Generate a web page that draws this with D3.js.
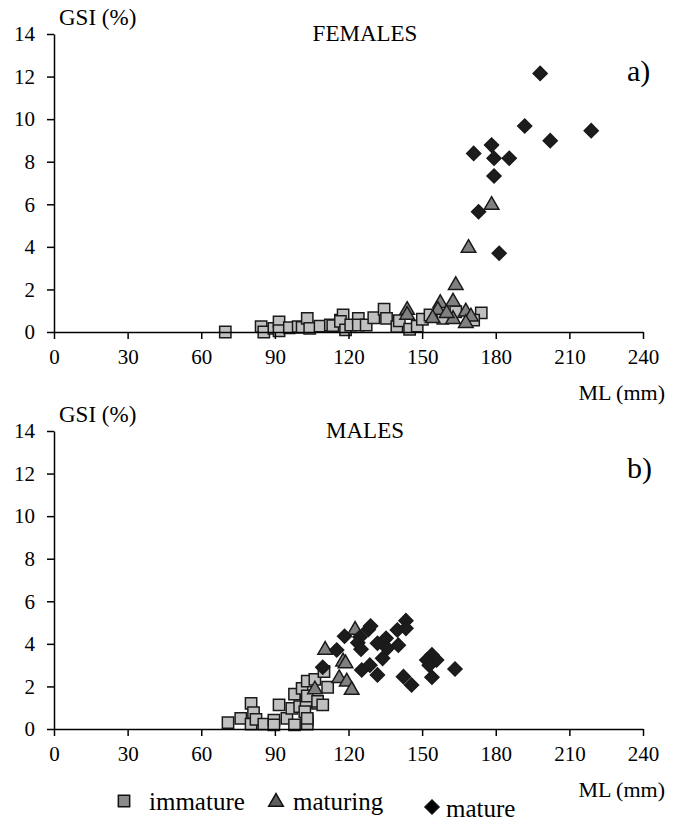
<!DOCTYPE html>
<html>
<head>
<meta charset="utf-8">
<script src="https://cdn.jsdelivr.net/npm/d3@7"></script>
<style>
  body { margin: 0; background: #fff; }
  svg text { font-family: "Liberation Serif", "DejaVu Serif", serif; fill: #000; }
</style>
</head>
<body>
<div id="chart-area"></div>
<script>
// ML (mm), GSI (%)
var femImmature = [[69.8,0.0],[84.4,0.25],[85.5,0.0],[89.6,0.17],[91.7,0.48],[91.7,0.06],[95.9,0.2],[99.5,0.25],
    [101.1,0.22],[103.2,0.64],[104.2,0.17],[108.4,0.28],[112.6,0.33],[116.7,0.56],[113.6,0.3],[117.8,0.8],
    [116.7,0.5],[118.8,0.1],[120.9,0.33],[124,0.64],[124,0.33],[127.2,0.33],[130.3,0.67],[134.5,1.07],
    [135.5,0.64],[139.7,0.25],[140.7,0.53],[144.9,0.13],[148,0.28],[150.1,0.6],[153.2,0.8],[158.4,0.64],
    [163.7,0.95],[174.1,0.9],[171,0.56]];
var femMaturing = [[143.9,1.03],[143.9,0.8],[157.4,1.35],[162.6,1.42],[156.4,1.03],[154.3,0.64],[162.6,0.6],
    [167.8,0.95],[169.9,0.72],[167.8,0.41],[160,0.88],[163.7,2.2],[168.9,3.94],[178.3,5.96]];
var femMature = [[198.1,12.15],[191.8,9.68],[202.2,8.99],[218.9,9.46],[171,8.39],[178.3,8.78],[179.3,8.16],
    [185.5,8.16],[179.3,7.33],[173,5.65],[181.4,3.7]];

var malImmature = [[70.9,0.3],[76.1,0.5],[80.3,1.2],[81.3,0.77],[80.3,0.23],[82.3,0.45],[85.5,0.23],[89.6,0.42],
    [89.6,0.19],[91.7,1.13],[94.9,0.5],[98,0.19],[96.9,0.97],[98,1.64],[100.1,1.05],[101.1,1.91],[102.7,1.28],
    [102.2,0.81],[103.2,0.42],[103.2,2.25],[106.3,2.33],[107.4,1.2],[103.2,0.23],[103.2,1.55],[111.5,1.96],
    [103.2,0.5],[110,2.7],[107.4,1.3],[109.5,1.13]];
var malMaturing = [[106.3,1.85],[110.5,3.71],[117.8,3.16],[118.8,3.08],[116.2,2.38],[119.3,2.22],[121.3,1.83],
    [122.7,4.65]];
var malMature = [[109.5,2.9],[115.2,3.71],[118.4,4.36],[124.7,4.32],[123.8,4.05],[125.1,3.75],[128.1,4.68],
    [129,4.84],[131.8,4.03],[135.3,4.26],[135.8,3.79],[140.3,3.94],[133.9,3.32],[139.9,4.65],[143.4,5.09],
    [143.4,4.73],[125.4,2.77],[128.7,3.0],[131.8,2.54],[142.4,2.46],[145.7,2.07],[154,3.48],[155.9,3.24],
    [151.9,3.24],[152.9,3.0],[154,2.43],[163.4,2.82]];

var xTicks = [0,30,60,90,120,150,180,210,240];
var yTicks = [0,2,4,6,8,10,12,14];
var legendNames = ["immature","maturing","mature"];

var svg = d3.select("#chart-area").append("svg")
    .attr("width", 689)
    .attr("height", 824);

var x = d3.scaleLinear().domain([0, 240]).range([54, 643]);

var shapes = {
    immature: {sym: d3.symbol().type(d3.symbolSquare).size(128)(), rot: 0, fill: "#c0c0c0"},
    maturing: {sym: d3.symbol().type(d3.symbolTriangle).size(92)(), rot: 0, fill: "#808080"},
    mature:   {sym: d3.symbol().type(d3.symbolSquare).size(98)(), rot: 45, fill: "#1c1c1c"}
};

function panel(top, title, tag, series) {
    var y = d3.scaleLinear().domain([0, 14]).range([top + 298, top]);

    series.forEach((s)=>{
        var sh = shapes[s.kind];
        svg.append("g").selectAll("path")
            .data(s.data)
            .enter()
            .append("path")
            .attr("d", sh.sym)
            .attr("transform", (d)=>{return "translate(" + x(d[0]) + "," + y(d[1]) + ") rotate(" + sh.rot + ")";})
            .attr("fill", sh.fill)
            .attr("stroke", "#1a1a1a")
            .attr("stroke-width", 1.5);
    });

    var yAxis = svg.append("g")
        .attr("transform", "translate(" + x(0) + ",0)")
        .call(d3.axisLeft(y).tickValues(yTicks).tickSize(7).tickSizeOuter(0).tickPadding(12));
    var xAxis = svg.append("g")
        .attr("transform", "translate(0," + y(0) + ")")
        .call(d3.axisBottom(x).tickValues(xTicks).tickSize(7).tickSizeOuter(0).tickPadding(10));

    [yAxis, xAxis].forEach((a)=>{
        a.attr("font-family", "Liberation Serif").attr("font-size", 21);
        a.selectAll("path, line").attr("stroke", "#000").attr("stroke-width", 1.5);
        a.selectAll("text").attr("fill", "#000");
    });

    svg.append("text").attr("x", 59).attr("y", top - 9).style("font-size", "23px").text("GSI (%)");
    svg.append("text").attr("x", 365).attr("y", top + 7).attr("text-anchor", "middle")
        .style("font-size", "23px").text(title);
    svg.append("text").attr("x", 627).attr("y", top + 47).style("font-size", "30px").text(tag);
    svg.append("text").attr("x", 665).attr("y", top + 366).attr("text-anchor", "end")
        .style("font-size", "22px").text("ML (mm)");
}

panel(34, "FEMALES", "a)", [
    {kind: "immature", data: femImmature},
    {kind: "maturing", data: femMaturing},
    {kind: "mature", data: femMature}
]);
panel(431, "MALES", "b)", [
    {kind: "immature", data: malImmature},
    {kind: "maturing", data: malMaturing},
    {kind: "mature", data: malMature}
]);

// legend
var legendPos = [{mx: 124, my: 801, tx: 149, ty: 810}, {mx: 276, my: 802, tx: 293, ty: 810}, {mx: 432, my: 807, tx: 446, ty: 817}];
var legendFill = {immature: "#8c8c8c", maturing: "#5e5e5e", mature: "#000"};
legendNames.forEach((n, i)=>{
    var p = legendPos[i];
    var sh = shapes[n];
    svg.append("path")
        .attr("d", sh.sym)
        .attr("transform", "translate(" + p.mx + "," + p.my + ") rotate(" + sh.rot + ")")
        .attr("fill", legendFill[n])
        .attr("stroke", "#111")
        .attr("stroke-width", 1.5);
    svg.append("text").attr("x", p.tx).attr("y", p.ty).style("font-size", "25px").text(n);
});
</script>
</body>
</html>
